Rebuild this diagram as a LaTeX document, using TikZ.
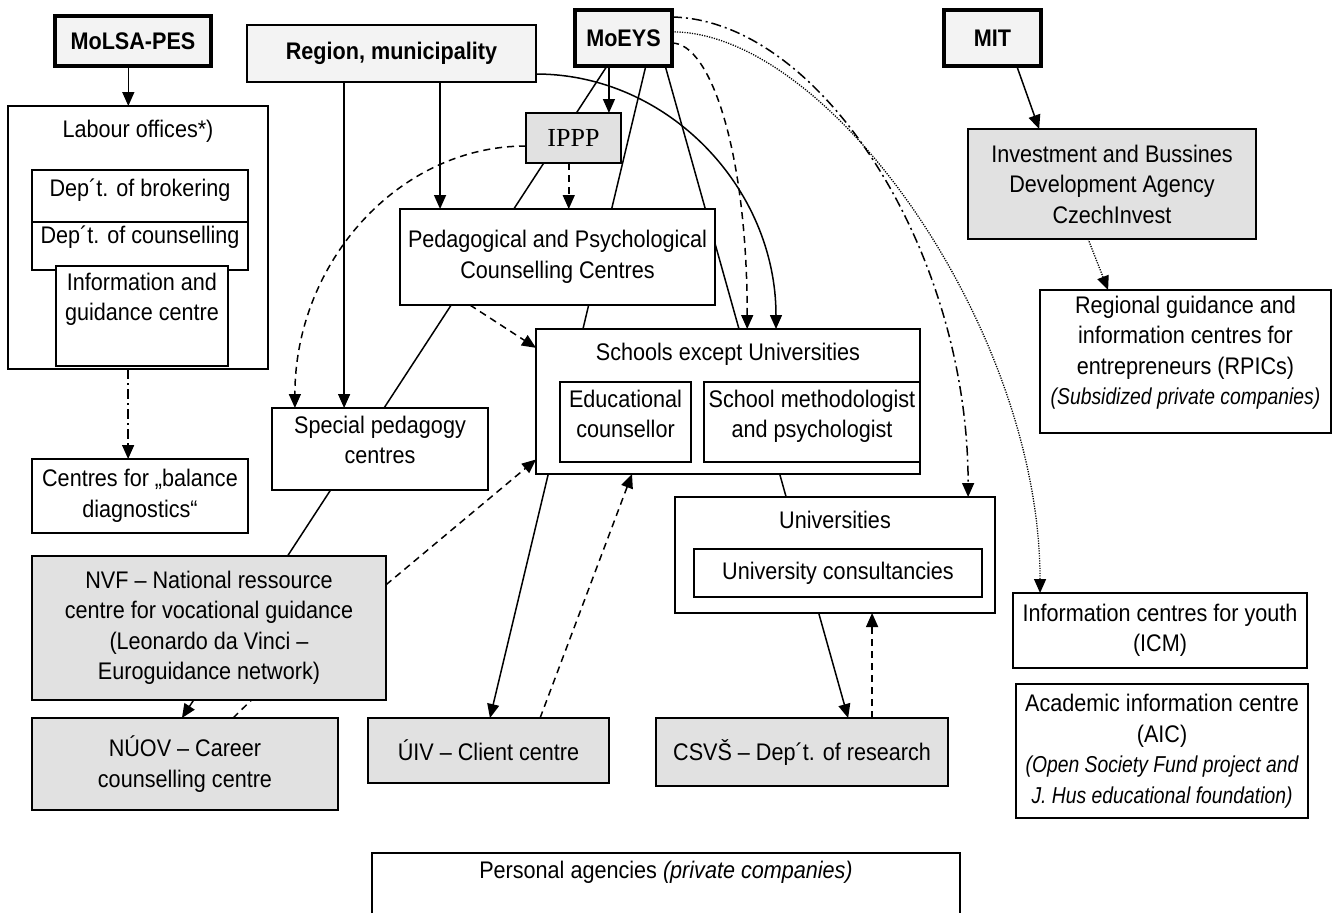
\documentclass[tikz,border=0pt]{standalone}
\usepackage{fontspec}
\setmainfont{Liberation Sans}[FakeStretch=0.9]
\newfontfamily\narrowfam{Liberation Sans}[FakeStretch=0.84]
\newfontfamily\ippfont{Liberation Serif}
\usetikzlibrary{arrows.meta,calc,backgrounds}
\definecolor{lightfill}{RGB}{243,243,243}
\definecolor{grayfill}{RGB}{225,225,225}
\newcommand\myfs{\fontsize{24}{30.5}\selectfont}
\newcommand\itsm{\narrowfam\fontsize{23}{29.5}\selectfont\itshape}
\tikzset{
  boxst/.style={draw,line width=1.6pt,fill=white,inner sep=0pt,outer sep=0pt,align=center,font=\myfs},
  thickbox/.style={line width=4pt,fill=lightfill},
  regbox/.style={line width=2pt,fill=lightfill},
  graybox/.style={fill=grayfill},
  txt/.style={inner sep=0pt,outer sep=0pt,align=center,font=\myfs,anchor=north},
  conn/.style={line width=1.5pt},
  arr/.style={-{Triangle[length=14pt,width=12pt]}},
  mydashed/.style={dash pattern=on 7pt off 5pt},
  mydashdot/.style={dash pattern=on 10pt off 4pt on 2pt off 4pt},
  dotconn/.style={line width=1.3pt,dash pattern=on 1.2pt off 1.3pt}
}
\newcommand\mkbox[7][]{%
  \node[boxst,#1,minimum width=#5pt-#3pt,minimum height=#6pt-#4pt,anchor=north west] (#2) at (#3,#4) {#7};}
\begin{document}
\begin{tikzpicture}[x=1pt,y=-1pt]
\useasboundingbox (0,0) rectangle (1335,913);

% ---------- boxes ----------
\mkbox[thickbox]{mol}{55}{16}{211}{66}{\bfseries MoLSA-PES}
\mkbox[regbox]{reg}{247}{25}{536}{82}{\bfseries Region, municipality}
\mkbox[thickbox]{moeys}{575}{10}{672}{66}{\bfseries MoEYS}
\mkbox[thickbox]{mit}{944}{10}{1041}{66}{\bfseries MIT}

\mkbox{lab}{8}{106}{268}{369}{}
\node[txt] (lab-t) at ($(lab.north)+(0,14)$) {Labour offices*)};
\mkbox{brok}{32}{170}{248}{222}{}
\node[txt] (brok-t) at ($(brok.north)+(0,9)$) {Dep´t. of brokering};
\mkbox{couns}{32}{222}{248}{270}{}
\node[txt] (couns-t) at ($(couns.north)+(0,4)$) {Dep´t. of counselling};
\mkbox{igc}{56}{266}{228}{366}{}
\node[txt] (igc-t) at ($(igc.north)+(0,7)$) {Information and\\guidance centre};
\mkbox{bal}{32}{459}{248}{533}{Centres for „balance\\diagnostics“}

\mkbox[graybox]{ippp}{526}{113}{621}{163}{\ippfont\fontsize{26}{30}\selectfont IPPP}
\mkbox{ped}{400}{209}{715}{305}{Pedagogical and Psychological\\Counselling Centres}
\mkbox{spc}{272}{408}{488}{490}{}
\node[txt] (spc-t) at ($(spc.north)+(0,8)$) {Special pedagogy\\centres};

\mkbox{sch}{536}{329}{920}{474}{}
\node[txt] (sch-t) at ($(sch.north)+(0,14)$) {Schools except Universities};
\mkbox{edu}{560}{382}{691}{462}{}
\node[txt] (edu-t) at ($(edu.north)+(0,8)$) {Educational\\counsellor};
\mkbox{smp}{704}{382}{920}{462}{}
\node[txt] (smp-t) at ($(smp.north)+(0,8)$) {School methodologist\\and psychologist};

\mkbox{uni}{675}{497}{995}{613}{}
\node[txt] (uni-t) at ($(uni.north)+(0,14)$) {Universities};
\mkbox{ucon}{694}{549}{982}{597}{University consultancies}

\mkbox[graybox]{cz}{968}{129}{1256}{239}{Investment and Bussines\\Development Agency\\CzechInvest}
\mkbox{rpic}{1040}{290}{1331}{433}{}
\node[txt] (rpic-t) at ($(rpic.north)+(0,6)$) {Regional guidance and\\information centres for\\entrepreneurs (RPICs)\\{\itsm (Subsidized private companies)}};
\mkbox{icm}{1013}{593}{1307}{668}{Information centres for youth\\(ICM)}
\mkbox{aic}{1016}{684}{1308}{818}{Academic information centre\\(AIC)\\{\itsm (Open Society Fund project and}\\{\itsm J. Hus educational foundation)}}

\mkbox[graybox]{nvf}{32}{556}{386}{700}{NVF – National ressource\\centre for vocational guidance\\(Leonardo da Vinci –\\Euroguidance network)}
\mkbox[graybox]{nuov}{32}{718}{338}{810}{NÚOV – Career\\counselling centre}
\mkbox[graybox]{uiv}{368}{718}{609}{783}{ÚIV – Client centre}
\mkbox[graybox]{csvs}{656}{718}{948}{786}{CSVŠ – Dep´t. of research}

\node[inner sep=0pt,outer sep=0pt,minimum width=588pt,minimum height=60pt,anchor=north west] (pers) at (372,853) {};
\draw[line width=1.6pt] (pers.south west) -- (pers.north west) -- (pers.north east) -- (pers.south east);
\node[txt] (pers-t) at ($(pers.north)+(0,8)$) {Personal agencies \textit{(private companies)}};

% ---------- connectors ----------
\begin{pgfonlayer}{background}
\coordinate (a1) at ($(mol.south west)!0.47!(mol.south east)$);
\draw[conn,arr] (a1) -- (a1 |- lab.north);
\coordinate (a2) at ($(lab.south west)!0.462!(lab.south east)$);
\draw[conn,mydashdot,arr] (a2) -- (a2 |- bal.north);

\coordinate (r1) at ($(reg.south west)!0.336!(reg.south east)$);
\draw[conn,arr] (r1) -- (r1 |- spc.north);
\coordinate (r2) at ($(reg.south west)!0.668!(reg.south east)$);
\draw[conn,arr] (r2) -- (r2 |- ped.north);
\coordinate (r3) at ($(reg.north east)!0.86!(reg.south east)$);
\coordinate (s1) at ($(sch.north west)!0.625!(sch.north east)$);
\draw[conn,arr] (r3) .. controls ($(r3)+(132,0)$) and ($(s1)+(0,-141)$) .. (s1);

\coordinate (m0) at ($(moeys.south west)!0.35!(moeys.south east)$);
\draw[conn,arr] (m0) -- (m0 |- ippp.north);
\coordinate (m1) at ($(moeys.south west)!0.33!(moeys.south east)$);
\coordinate (n1) at ($(nuov.north west)!0.49!(nuov.north east)$);
\draw[conn,arr] (m1) -- (n1);
\coordinate (m2) at ($(moeys.south west)!0.73!(moeys.south east)$);
\coordinate (n2) at ($(uiv.north west)!0.506!(uiv.north east)$);
\draw[conn,arr] (m2) -- (n2);
\coordinate (m3) at ($(moeys.south west)!0.93!(moeys.south east)$);
\coordinate (n3) at ($(csvs.north west)!0.658!(csvs.north east)$);
\draw[conn,arr] (m3) -- (n3);

\coordinate (m4) at ($(moeys.north east)!0.59!(moeys.south east)$);
\coordinate (s2) at ($(sch.north west)!0.55!(sch.north east)$);
\draw[conn,mydashed,arr] (m4) .. controls ($(m4)+(38,0)$) and ($(s2)+(0,-179)$) .. (s2);
\coordinate (m5) at ($(moeys.north east)!0.125!(moeys.south east)$);
\coordinate (u1) at ($(uni.north west)!0.916!(uni.north east)$);
\draw[conn,mydashdot,arr] (m5) .. controls ($(m5)+(148,3)$) and ($(u1)+(0,-247)$) .. (u1);
\coordinate (m6) at ($(moeys.north east)!0.39!(moeys.south east)$);
\coordinate (i1) at ($(icm.north west)!0.092!(icm.north east)$);
\draw[dotconn,arr] (m6) .. controls ($(m6)+(158,0)$) and ($(i1)+(0,-263)$) .. (i1);

\coordinate (p1) at ($(ippp.north west)!0.66!(ippp.south west)$);
\coordinate (sp1) at ($(spc.north west)!0.106!(spc.north east)$);
\draw[conn,mydashed,arr] (p1) .. controls ($(p1)+(-128,0)$) and ($(sp1)+(0,-145)$) .. (sp1);
\coordinate (p2) at ($(ippp.south west)!0.45!(ippp.south east)$);
\draw[conn,mydashed,arr] (p2) -- (p2 |- ped.north);

\coordinate (pd) at ($(ped.south west)!0.222!(ped.south east)$);
\coordinate (s3) at ($(sch.north west)!0.13!(sch.south west)$);
\draw[conn,mydashed,arr] (pd) -- (s3);
\coordinate (nv) at ($(nvf.north east)!0.2!(nvf.south east)$);
\coordinate (s4) at ($(sch.north west)!0.9!(sch.south west)$);
\draw[conn,mydashed,arr] (nv) -- (s4);
\coordinate (ui) at ($(uiv.north west)!0.714!(uiv.north east)$);
\coordinate (s5) at ($(sch.south west)!0.25!(sch.south east)$);
\draw[conn,mydashed,arr] (ui) -- (s5);
\coordinate (cs) at ($(csvs.north west)!0.74!(csvs.north east)$);
\draw[conn,mydashed,arr] (cs) -- (cs |- uni.south);
\coordinate (nu) at ($(nuov.north west)!0.657!(nuov.north east)$);
\coordinate (nv2) at ($(nvf.south west)!0.62!(nvf.south east)$);
\draw[conn,mydashed] (nu) -- (nv2);

\coordinate (mi) at ($(mit.south west)!0.75!(mit.south east)$);
\coordinate (c1) at ($(cz.north west)!0.247!(cz.north east)$);
\draw[conn,arr] (mi) -- (c1);
\coordinate (c2) at ($(cz.south west)!0.417!(cz.south east)$);
\coordinate (rp) at ($(rpic.north west)!0.234!(rpic.north east)$);
\draw[dotconn,arr] (c2) -- (rp);
\end{pgfonlayer}
\end{tikzpicture}
\end{document}
